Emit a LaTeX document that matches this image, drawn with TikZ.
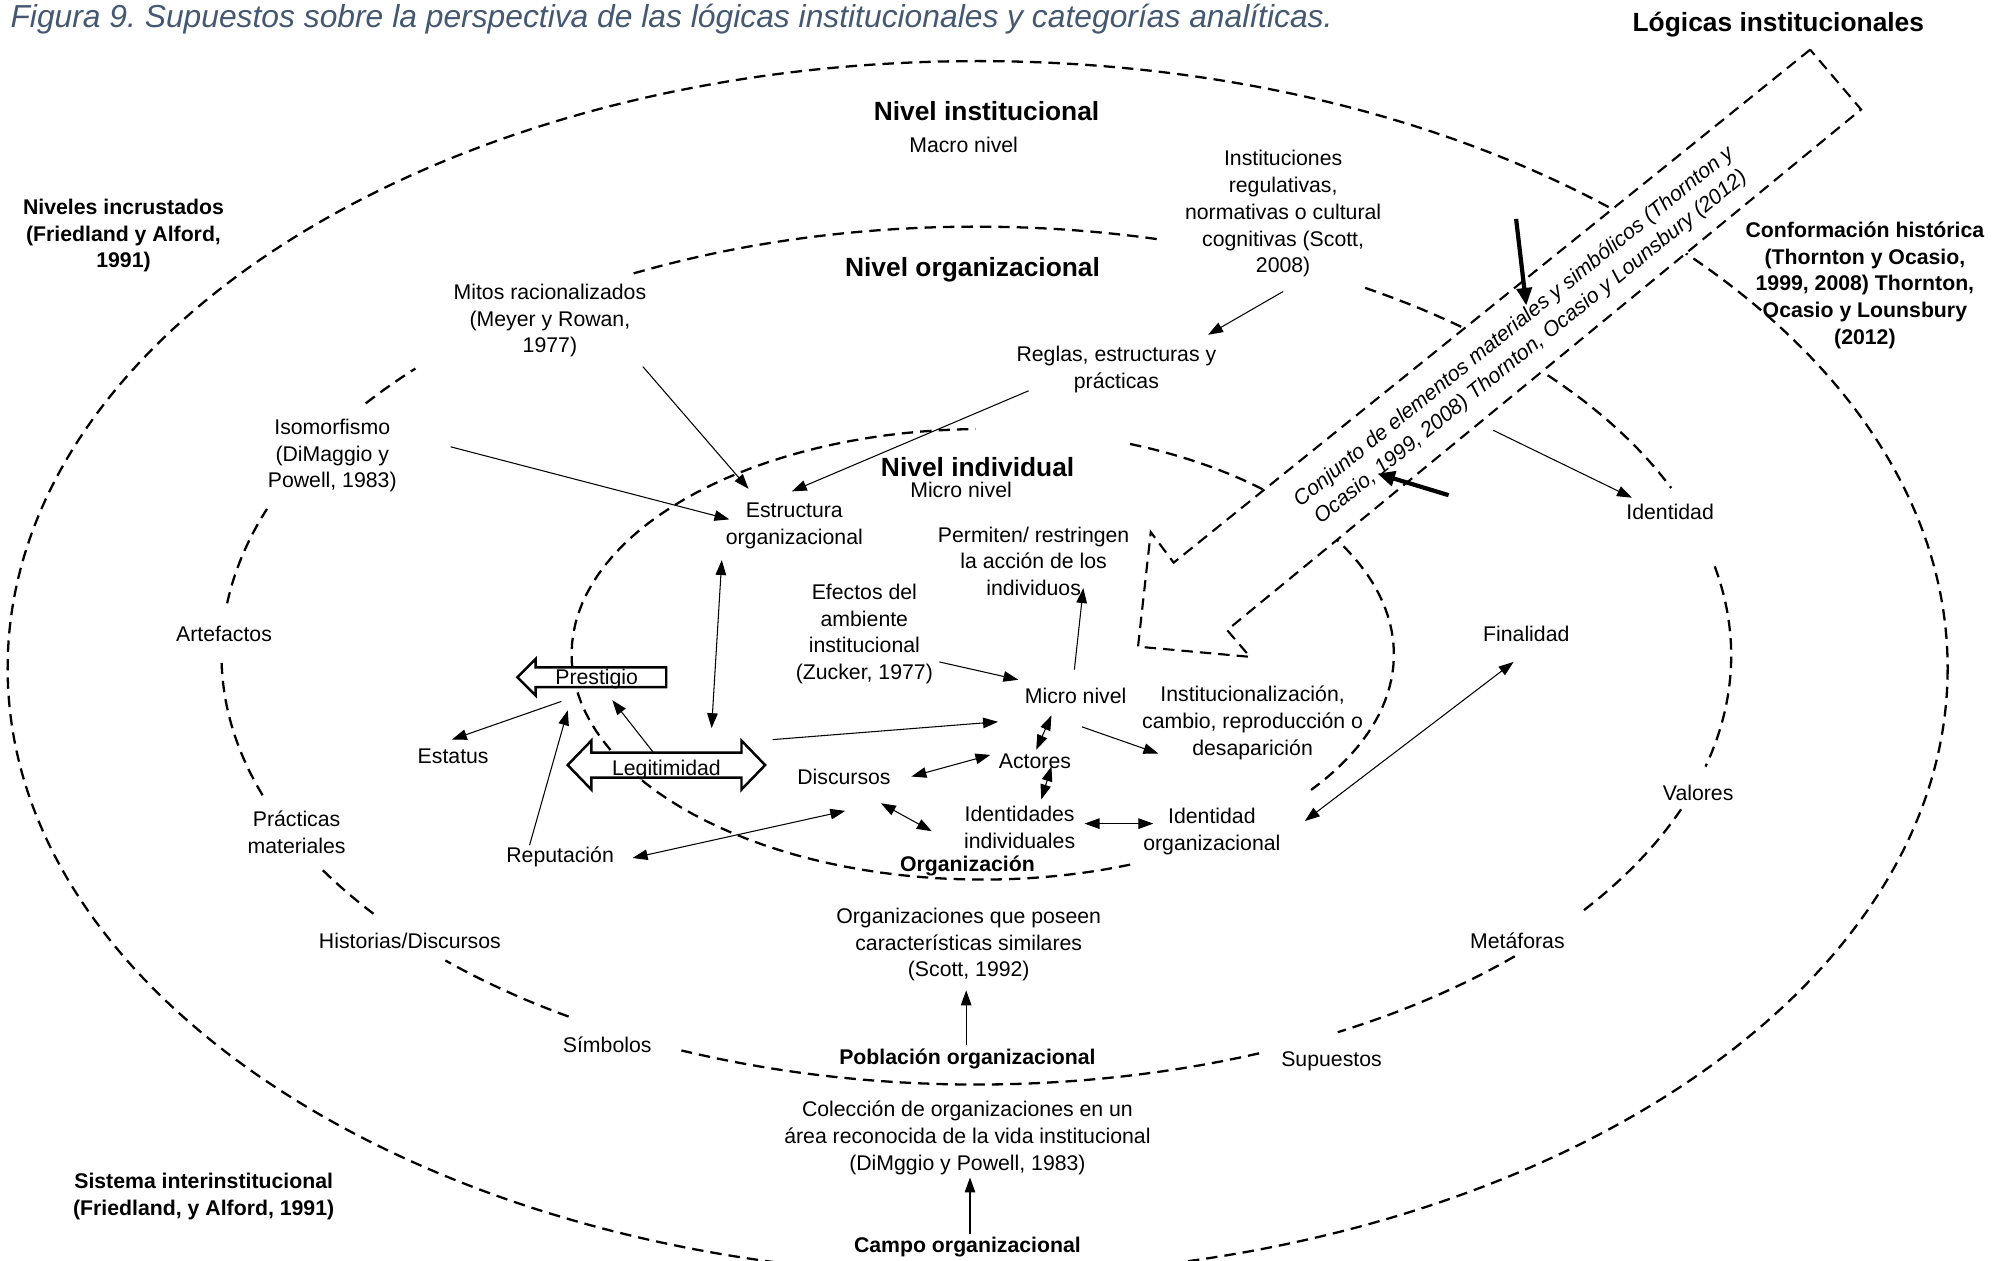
\documentclass[tikz,border=0pt]{standalone}
\usepackage{fontspec}
\setmainfont{Liberation Sans}
\usetikzlibrary{arrows.meta,shapes.arrows,calc}
\definecolor{titulo}{RGB}{68,88,114}
\frenchspacing
\tikzset{
  lbl/.style={font=\fontsize{12.1}{15.2}\selectfont, align=center, inner sep=2pt},
  negrita/.style={font=\fontsize{12.1}{15.2}\selectfont\bfseries, align=center, inner sep=2pt},
  nivelnombre/.style={font=\fontsize{15}{18}\selectfont\bfseries, inner sep=2pt},
  borde/.style={line width=1.3pt, dash pattern=on 6.5pt off 4pt},
  arr/.style={line width=0.6pt, -{Triangle[length=8.5pt,width=6pt]}},
  dbl/.style={line width=0.6pt, {Triangle[length=8.5pt,width=6pt]}-{Triangle[length=8.5pt,width=6pt]}},
  empuje/.style={line width=2.4pt, -{Triangle[length=10pt,width=8.5pt]}},
  bloque/.style={draw, line width=1.4pt, fill=white, font=\fontsize{12.1}{15.2}\selectfont, inner xsep=2pt, text depth=0pt}
}
\begin{document}
\begin{tikzpicture}[x=0.02546cm, y=-0.02546cm]
\useasboundingbox (0,0) rectangle (1568,990);
\clip (0,0) rectangle (1568,990);

% Nivel institucional (outer ellipse)
\draw[borde] (768,525) ellipse [x radius=762, y radius=477];

% Nivel organizacional (middle ellipse, cut where the labels sit)
\def\mx{767} \def\my{515} \def\ma{593} \def\mb{337}
\draw[borde] plot[domain=243:284, samples=30] ({\mx+\ma*cos(\x)},{\my+\mb*sin(\x)});
\draw[borde] plot[domain=301:337, samples=30] ({\mx+\ma*cos(\x)},{\my+\mb*sin(\x)});
\draw[borde] plot[domain=348:375, samples=30] ({\mx+\ma*cos(\x)},{\my+\mb*sin(\x)});
\draw[borde] plot[domain=21:36.4, samples=20] ({\mx+\ma*cos(\x)},{\my+\mb*sin(\x)});
\draw[borde] plot[domain=44.5:61.4, samples=20] ({\mx+\ma*cos(\x)},{\my+\mb*sin(\x)});
\draw[borde] plot[domain=68:113, samples=30] ({\mx+\ma*cos(\x)},{\my+\mb*sin(\x)});
\draw[borde] plot[domain=122.7:134.7, samples=20] ({\mx+\ma*cos(\x)},{\my+\mb*sin(\x)});
\draw[borde] plot[domain=143:150, samples=10] ({\mx+\ma*cos(\x)},{\my+\mb*sin(\x)});
\draw[borde] plot[domain=161:179, samples=20] ({\mx+\ma*cos(\x)},{\my+\mb*sin(\x)});
\draw[borde] plot[domain=187:200, samples=20] ({\mx+\ma*cos(\x)},{\my+\mb*sin(\x)});
\draw[borde] plot[domain=216:222, samples=10] ({\mx+\ma*cos(\x)},{\my+\mb*sin(\x)});

% Nivel individual (inner ellipse)
\def\ix{772} \def\iy{514} \def\ia{323} \def\ib{177}
\draw[borde] plot[domain=291:397, samples=60] ({\ix+\ia*cos(\x)},{\iy+\ib*sin(\x)});
\draw[borde] plot[domain=69:269, samples=80] ({\ix+\ia*cos(\x)},{\iy+\ib*sin(\x)});

% Logicas institucionales (big dashed arrow)
\draw[line width=1.2pt, dash pattern=on 6.5pt off 4pt, fill=white] (1422,39) -- (922,442) -- (904,418) -- (894,508) -- (982,516) -- (964,495) -- (1462,86) -- cycle;
\node[lbl, font=\fontsize{12.1}{15.2}\selectfont\itshape, rotate=39] (conjunto) at (1196,265) {Conjunto de elementos materiales y simbólicos (Thornton y\\Ocasio, 1999, 2008) Thornton, Ocasio y Lounsbury (2012)};

% Title and outer labels
\node[anchor=west, font=\fontsize{18.1}{22}\selectfont\itshape, text=titulo, inner sep=0pt] (fig) at (8,15) {Figura 9. Supuestos sobre la perspectiva de las lógicas institucionales y categorías analíticas.};
\node[nivelnombre] (logicas) at (1397,19) {Lógicas institucionales};
\node[negrita] (incrust) at (97,185) {Niveles incrustados\\(Friedland y Alford,\\1991)};
\node[negrita] (conform) at (1465,224) {Conformación histórica\\(Thornton y Ocasio,\\1999, 2008) Thornton,\\Ocasio y Lounsbury\\(2012)};
\node[negrita] (sistema) at (160,940) {Sistema interinstitucional\\(Friedland, y Alford, 1991)};

% Level names
\node[nivelnombre] (nivinst) at (775,87) {Nivel institucional};
\node[lbl] (macro) at (757,114) {Macro nivel};
\node[nivelnombre] (nivorg) at (764,212) {Nivel organizacional};
\node[nivelnombre] (nivind) at (768,367) {Nivel individual};
\node[lbl] (micro1) at (755,385) {Micro nivel};
\node[negrita] (organiz) at (760,680) {Organización};
\node[negrita] (poblacion) at (760,832) {Población organizacional};
\node[negrita] (campo) at (760,980) {Campo organizacional};

% Labels on the ellipses
\node[lbl] (artef) at (176,498) {Artefactos};
\node[lbl] (practicas) at (233,654) {Prácticas\\materiales};
\node[lbl] (historias) at (322,739) {Historias/Discursos};
\node[lbl] (simbolos) at (477,821) {Símbolos};
\node[lbl] (supuestos) at (1046,834) {Supuestos};
\node[lbl] (metaforas) at (1192,739) {Metáforas};
\node[lbl] (valores) at (1334,623) {Valores};
\node[lbl] (identidad) at (1312,402) {Identidad};
\node[lbl] (isomorf) at (261,358) {Isomorfismo\\(DiMaggio y\\Powell, 1983)};
\node[lbl] (mitos) at (432,252) {Mitos racionalizados\\(Meyer y Rowan,\\1977)};
\node[lbl] (instit) at (1008,168) {Instituciones\\regulativas,\\normativas o cultural\\cognitivas (Scott,\\2008)};

% Inner labels
\node[lbl] (reglas) at (877,290) {Reglas, estructuras y\\prácticas};
\node[lbl] (estruct) at (624,413) {Estructura\\organizacional};
\node[lbl] (permiten) at (812,441) {Permiten/ restringen\\la acción de los\\individuos};
\node[lbl] (efectos) at (679,498) {Efectos del\\ambiente\\institucional\\(Zucker, 1977)};
\node[lbl] (finalidad) at (1199,498) {Finalidad};
\node[lbl] (micro2) at (845,547) {Micro nivel};
\node[lbl] (instz) at (984,568) {Institucionalización,\\cambio, reproducción o\\desaparición};
\node[lbl] (actores) at (813,598) {Actores};
\node[lbl] (discursos) at (663,610) {Discursos};
\node[lbl] (identind) at (801,650) {Identidades\\individuales};
\node[lbl] (identorg) at (952,653) {Identidad\\organizacional};
\node[lbl] (estatus) at (356,594) {Estatus};
\node[lbl] (reputacion) at (440,673) {Reputación};
\node[lbl] (orgposeen) at (761,742) {Organizaciones que poseen\\características similares\\(Scott, 1992)};
\node[lbl] (coleccion) at (760,894) {Colección de organizaciones en un\\área reconocida de la vida institucional\\(DiMggio y Powell, 1983)};

% Block arrows
\node[bloque, single arrow, shape border rotate=180, single arrow tip angle=90, single arrow head extend=0.17cm, minimum height=2.98cm, text height=8.6pt, inner ysep=0.6pt, anchor=tip] (prestigio) at (405,532) {Prestigio};
\node[bloque, double arrow, double arrow tip angle=92, double arrow head extend=0.24cm, minimum height=3.95cm, text height=11.6pt, inner ysep=0.6pt] (legit) at (523.5,601) {Legitimidad};

% Connectors
\draw[arr] ($(instit)+(0,61)$) -- ($(reglas)+(72,-27)$);
\draw[arr] ($(reglas)+(-69,17)$) -- ($(estruct)+(-2,-27)$);
\draw[arr] ($(mitos)+(73,36)$) -- ($(estruct)+(-36,-29)$);
\draw[arr] ($(isomorf)+(93,-7)$) -- ($(estruct)+(-51,-5)$);
\draw[dbl] ($(estruct)+(-57,27)$) -- ($(legit)+(35.5,-29)$);
\draw[arr] ($(efectos)+(59,22)$) -- ($(micro2)+(-45,-13)$);
\draw[arr] ($(micro2)+(-1,-21)$) -- ($(permiten)+(39,21)$);
\draw[arr] ($(legit)+(83.5,-20)$) -- ($(micro2)+(-61,20)$);
\draw[arr] ($(micro2)+(5,24)$) -- ($(instz)+(-74,24)$);
\draw[dbl] ($(micro2)+(-19,15)$) -- ($(actores)+(1,-9)$);
\draw[dbl] ($(actores)+(13,4)$) -- ($(identind)+(17,-22)$);
\draw[dbl] ($(discursos)+(53,0)$) -- ($(actores)+(-35,-5)$);
\draw[dbl] ($(discursos)+(29,21)$) -- ($(identind)+(-69,3)$);
\draw[dbl] ($(identind)+(51,-3)$) -- ($(identorg)+(-46,-6)$);
\draw[dbl] ($(reputacion)+(57,1)$) -- ($(discursos)+(1,27)$);
\draw[arr] ($(legit)+(-9.5,-9)$) -- ($(prestigio.tip)+(76,18)$);
\draw[arr] ($(prestigio.tip)+(36,19)$) -- ($(estatus)+(-1,-13)$);
\draw[arr] ($(reputacion)+(-24,-9)$) -- ($(prestigio.tip)+(41,26)$);
\draw[dbl] ($(finalidad)+(-10,22)$) -- ($(identorg)+(73,-8)$);
\draw[arr] ($(poblacion)+(-1,-11)$) -- ($(orgposeen)+(-2,36)$);
\draw[arr] ($(campo)+(2,-11)$) -- ($(coleccion)+(2,31)$);
\draw[arr] ($(conjunto)+(-23,73)$) -- ($(identidad)+(-30,-11)$);

% Thick arrows into the logics
\coordinate (empuje1) at (1191,172);
\coordinate (empuje2) at (1138,389);
\draw[empuje] (empuje1) -- ($(conjunto)+(3,-25)$);
\draw[empuje] (empuje2) -- ($(conjunto)+(-114,107)$);
\end{tikzpicture}
\end{document}
